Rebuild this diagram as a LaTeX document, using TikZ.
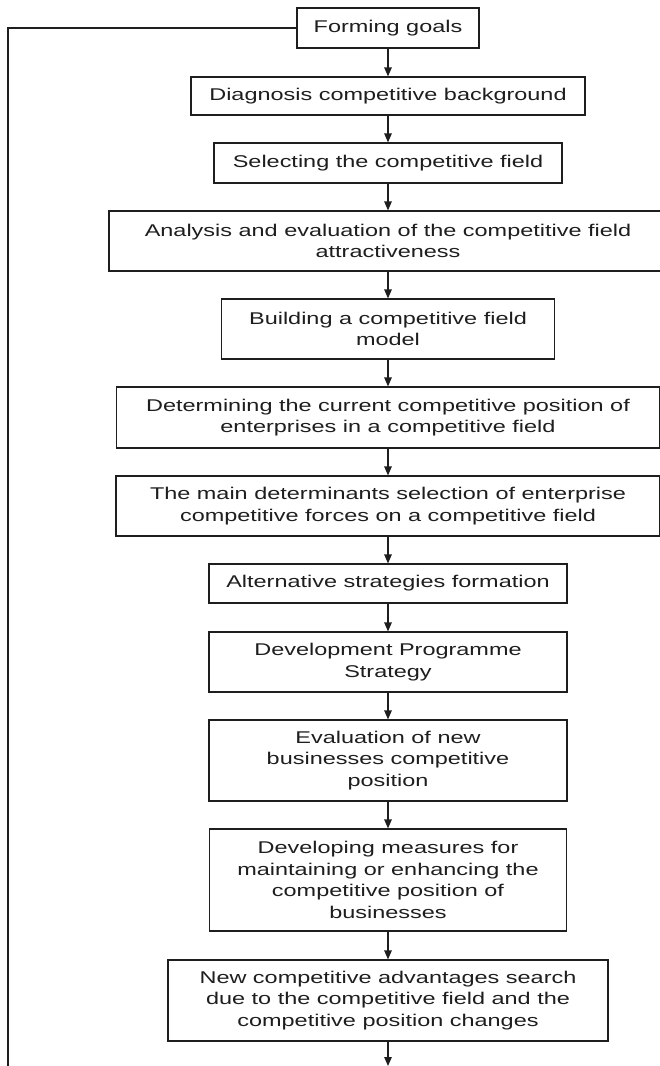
\documentclass[tikz,border=0pt]{standalone}
\usepackage{fontspec}
\setmainfont{Liberation Sans}[FakeStretch=1.38]
\usetikzlibrary{arrows.meta}
\definecolor{ink}{HTML}{1E1E1E}
\tikzset{
  box/.style={draw=ink, text=ink, line width=1.2pt, inner sep=0pt, align=center,
    font=\fontsize{17}{21.5}\selectfont},
  arr/.style={draw=ink, line width=1.2pt, -{Triangle[length=9pt,width=7.5pt]}},
  fb/.style={draw=ink, line width=1.2pt}
}
\begin{document}
\begin{tikzpicture}[x=1pt,y=-1pt]
\clip (0,0) rectangle (660,1066);
\fill[white] (0,0) rectangle (660,1066);
\node[box, minimum width=182, minimum height=40] (n1) at (388,28) {Forming goals};
\node[box, minimum width=394, minimum height=38] (n2) at (388,96) {Diagnosis competitive background};
\node[box, minimum width=348, minimum height=40] (n3) at (388,163) {Selecting the competitive field};
\node[box, minimum width=558, minimum height=60] (n4) at (388,241) {Analysis and evaluation of the competitive field\\attractiveness};
\node[box, minimum width=333, minimum height=60] (n5) at (388,329) {Building a competitive field\\model};
\node[box, minimum width=543, minimum height=61] (n6) at (388,417.5) {Determining the current competitive position of\\enterprises in a competitive field};
\node[box, minimum width=544, minimum height=60] (n7) at (388,506) {The main determinants selection of enterprise\\competitive forces on a competitive field};
\node[box, minimum width=358, minimum height=39] (n8) at (388,583.5) {Alternative strategies formation};
\node[box, minimum width=358, minimum height=60] (n9) at (388,662) {Development Programme\\Strategy};
\node[box, minimum width=358, minimum height=81] (n10) at (388,760.5) {Evaluation of new\\businesses competitive\\position};
\node[box, minimum width=357, minimum height=102] (n11) at (388,880) {Developing measures for\\maintaining or enhancing the\\competitive position of\\businesses};
\node[box, minimum width=440, minimum height=81] (n12) at (388,1000.5) {New competitive advantages search\\due to the competitive field and the\\competitive position changes};
\coordinate (c1) at (8,28);
\coordinate (c2) at (8,1070);
\coordinate (e) at (388,1066);
\draw[arr] (n1) -- (n2);
\draw[arr] (n2) -- (n3);
\draw[arr] (n3) -- (n4);
\draw[arr] (n4) -- (n5);
\draw[arr] (n5) -- (n6);
\draw[arr] (n6) -- (n7);
\draw[arr] (n7) -- (n8);
\draw[arr] (n8) -- (n9);
\draw[arr] (n9) -- (n10);
\draw[arr] (n10) -- (n11);
\draw[arr] (n11) -- (n12);
\draw[arr] (n12) -- (e);
\draw[fb] (n1.west) -- (c1) -- (c2);
\end{tikzpicture}
\end{document}
